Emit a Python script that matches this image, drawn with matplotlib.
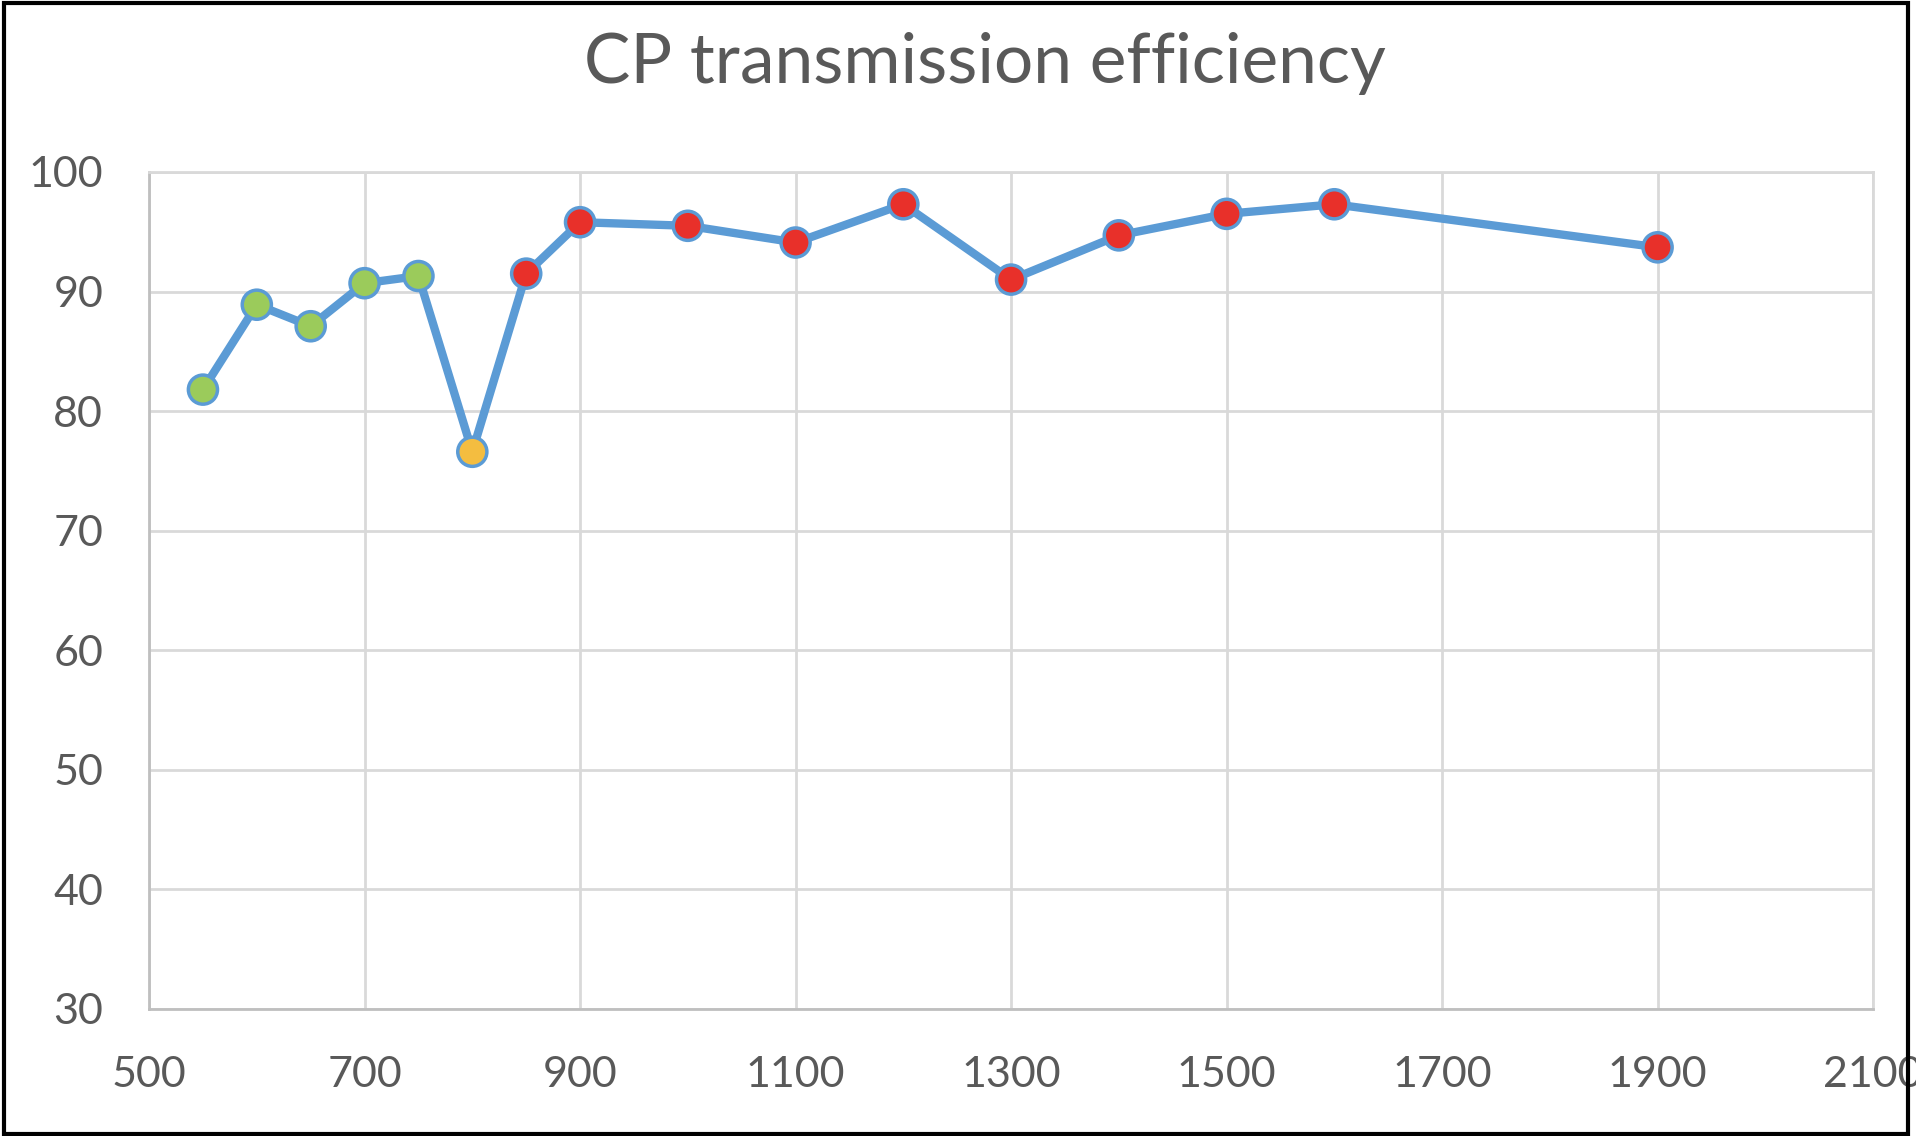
import matplotlib
matplotlib.use("Agg")
import matplotlib.pyplot as plt
from matplotlib.patches import Rectangle

# wavelength / efficiency readings
wavelength = [550, 600, 650, 700, 750, 800, 850, 900, 1000, 1100, 1200, 1300, 1400, 1500, 1600, 1900]
efficiency = [81.8, 88.9, 87.1, 90.7, 91.3, 76.6, 91.5, 95.8, 95.5, 94.1, 97.3, 91.0, 94.7, 96.5, 97.3, 93.7]
point_colors = ["#9BCB5B"] * 5 + ["#F4BD40"] + ["#E8302A"] * 10

x_ticks = [500, 700, 900, 1100, 1300, 1500, 1700, 1900, 2100]
y_ticks = [30, 40, 50, 60, 70, 80, 90, 100]

plt.rcParams['font.family'] = ['Lato', 'DejaVu Sans']

fig = plt.figure(figsize=(19.16, 11.36), dpi=100)
ax = fig.add_axes([0.0778, 0.1118, 0.8998, 0.7368])

line_blue = "#5B9BD5"
ax.plot(wavelength, efficiency, color=line_blue, linewidth=6, zorder=3)
ax.scatter(wavelength, efficiency, s=440, c=point_colors, edgecolors=line_blue,
           linewidths=2.5, zorder=4)

ax.set_xlim(500, 2100)
ax.set_ylim(30, 100)
ax.set_xticks(x_ticks)
ax.set_yticks(y_ticks)
ax.grid(True, color="#D9D9D9", linewidth=2)
ax.set_axisbelow(True)
for side in ax.spines:
    ax.spines[side].set_color("#D9D9D9")
    ax.spines[side].set_linewidth(2)
ax.spines['left'].set_color("#BFBFBF")
ax.spines['bottom'].set_color("#BFBFBF")
ax.tick_params(length=0, labelsize=31, labelcolor="#595959")
ax.tick_params(axis='x', pad=34)
ax.tick_params(axis='y', pad=33)
for lbl in ax.get_xticklabels():
    lbl.set_clip_on(False)

fig.text(0.514, 0.944, "CP transmission efficiency", ha="center", va="center",
         fontsize=50, color="#595959")

# black frame around the picture
fig.patches.append(Rectangle((0.002, 0.002), 0.994, 0.995, transform=fig.transFigure,
                             fill=False, edgecolor="black", linewidth=3, zorder=10))

fig.savefig("out.png", dpi=100, facecolor="white")
